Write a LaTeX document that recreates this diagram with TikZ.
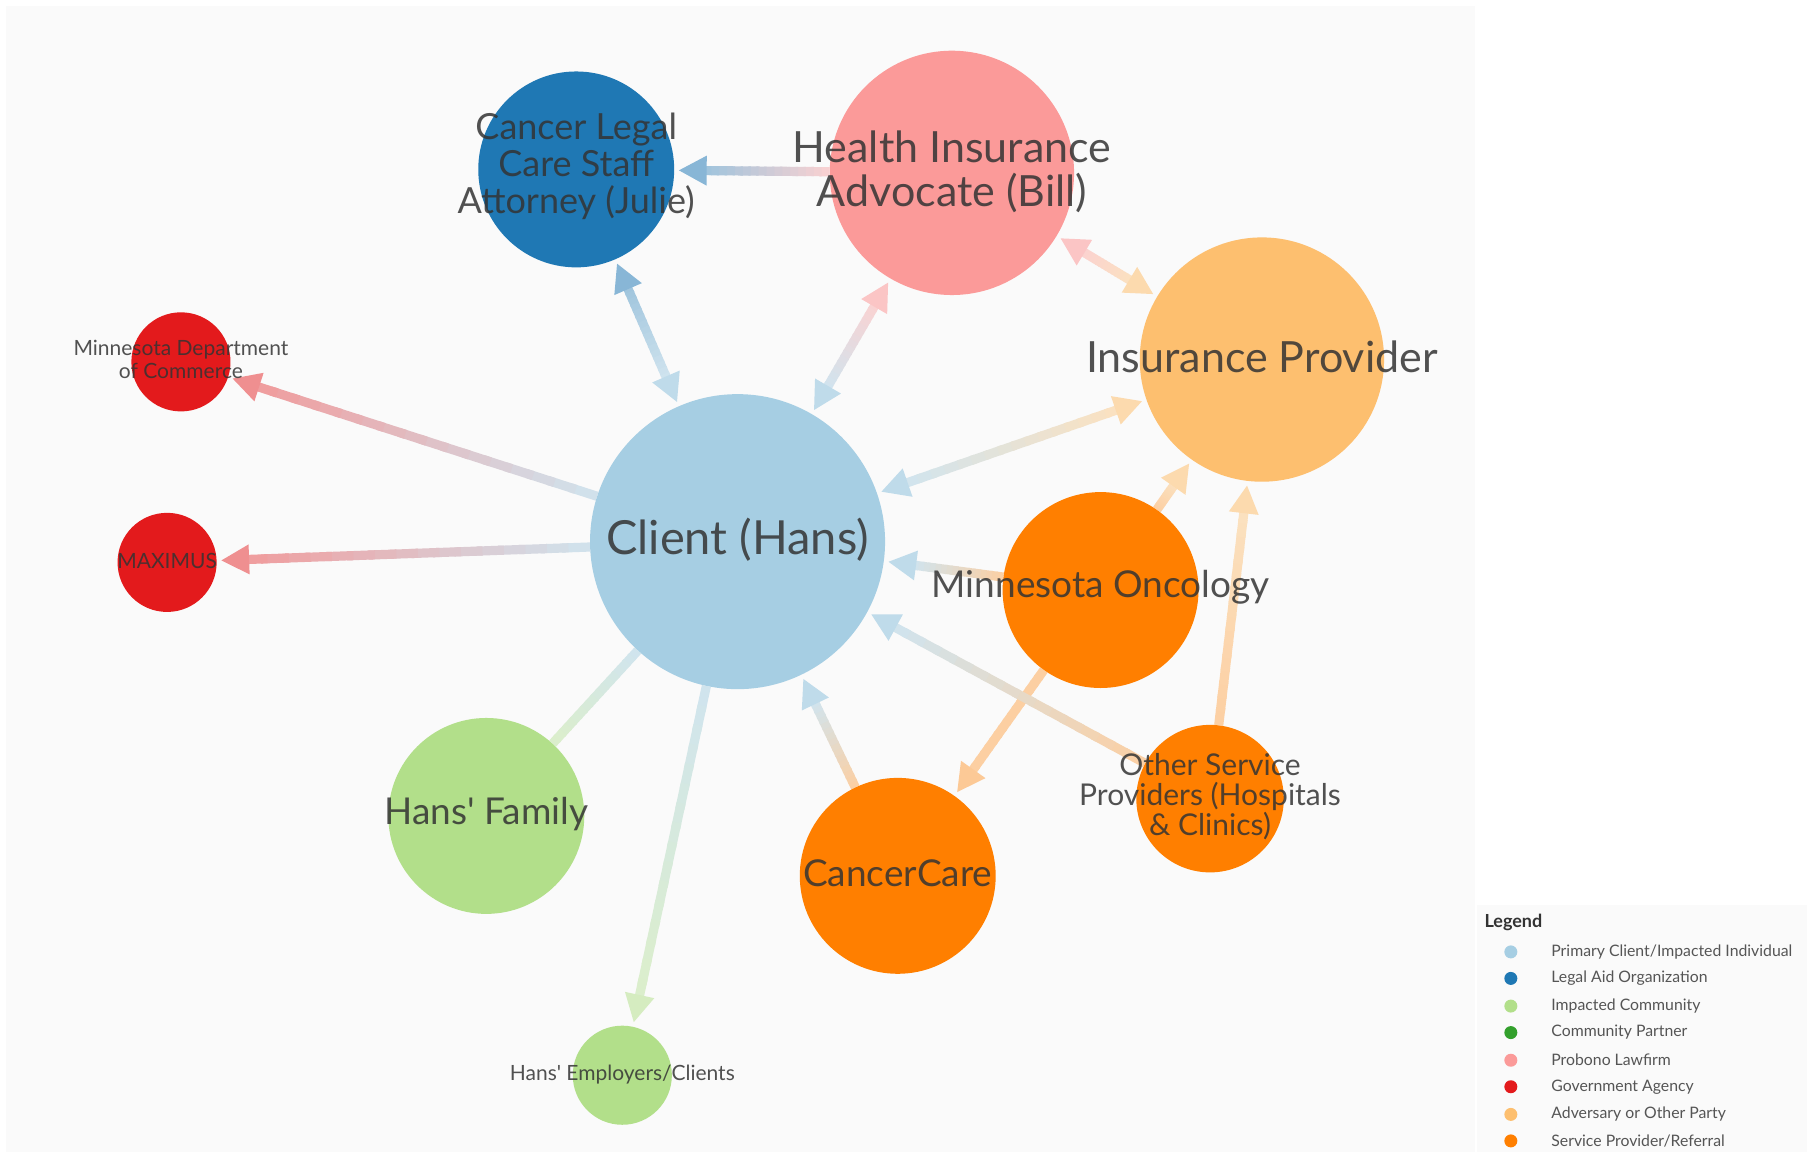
\documentclass[tikz,border=0pt]{standalone}
\usepackage{fontspec}
\setmainfont{Lato}
\usetikzlibrary{calc}
\pgfdeclarelayer{back}
\pgfdeclarelayer{edges}
\pgfsetlayers{back,edges,main}
\definecolor{bgpanel}{HTML}{FAFAFA}
\definecolor{cPrimary}{HTML}{A6CEE3}
\definecolor{cLegal}{HTML}{1F78B4}
\definecolor{cImpacted}{HTML}{B2DF8A}
\definecolor{cPartner}{HTML}{33A02C}
\definecolor{cProbono}{HTML}{FB9A99}
\definecolor{cGov}{HTML}{E31A1C}
\definecolor{cAdv}{HTML}{FDBF6F}
\definecolor{cServ}{HTML}{FF7F00}
\definecolor{labtext}{HTML}{333333}
\definecolor{legtext}{HTML}{555555}
\colorlet{ePrimary}{cPrimary!50!bgpanel}
\colorlet{eLegal}{cLegal!42!bgpanel}
\colorlet{eImpacted}{cImpacted!42!bgpanel}
\colorlet{eProbono}{cProbono!42!bgpanel}
\colorlet{eGov}{cGov!42!bgpanel}
\colorlet{eAdv}{cAdv!42!bgpanel}
\colorlet{eServ}{cServ!35!bgpanel}
\colorlet{aPrimary}{cPrimary!70!bgpanel}
\colorlet{aLegal}{cLegal!52!bgpanel}
\colorlet{aImpacted}{cImpacted!52!bgpanel}
\colorlet{aProbono}{cProbono!55!bgpanel}
\colorlet{aGov}{cGov!48!bgpanel}
\colorlet{aAdv}{cAdv!55!bgpanel}
\colorlet{aServ}{cServ!40!bgpanel}
\def\lw{9.2pt}
\def\gap{4.6pt}
\def\al{27.7pt}
\def\alin{24.5pt}
\def\aw{15pt}
% #1 from node, #2 to node, #3 from colour, #4 to colour, #5 arrow at from, #6 arrow at to
\newcommand{\gedge}[6]{%
  \path (#1) -- (#2) coordinate[pos=0] (ga) coordinate[pos=1] (gb);
  \coordinate (pa) at ($(ga)!\gap!(gb)$);
  \coordinate (pb) at ($(gb)!\gap!(ga)$);
  \ifnum#5>0 \coordinate (la) at ($(pa)!\alin!(pb)$);\else \coordinate (la) at (ga);\fi
  \ifnum#6>0 \coordinate (lb) at ($(pb)!\alin!(pa)$);\else \coordinate (lb) at (gb);\fi
  \foreach \i in {0,...,15}{%
    \pgfmathsetmacro{\ta}{\i/16}%
    \pgfmathsetmacro{\tb}{min(\i+1.3,16)/16}%
    \pgfmathtruncatemacro{\pc}{100-100*(\i+0.5)/16}%
    \draw[line width=\lw, color=e#3!\pc!e#4] ($(la)!\ta!(lb)$) -- ($(la)!\tb!(lb)$);
  }
  \ifnum#5>0
    \coordinate (sb) at ($(pa)!\al!(pb)$);
    \fill[a#3] (pa) -- ($(sb)!\aw!90:(pa)$) -- ($(sb)!\aw!-90:(pa)$) -- cycle;
  \fi
  \ifnum#6>0
    \coordinate (eb) at ($(pb)!\al!(pa)$);
    \fill[a#4] (pb) -- ($(eb)!\aw!90:(pb)$) -- ($(eb)!\aw!-90:(pb)$) -- cycle;
  \fi
}
\tikzset{
  bub/.style={circle, inner sep=0pt, draw=none, minimum size=#1*2.3048pt},
  lab/.style={align=center, text=labtext, text opacity=0.85, inner sep=0pt},
  legdot/.style={circle, inner sep=0pt, minimum size=13pt},
  legtxt/.style={anchor=west, text=legtext, inner sep=0pt, font=\fontsize{15.8}{18}\selectfont}
}
\begin{document}
\begin{tikzpicture}[x=1.1524pt,y=-1.1524pt]
\useasboundingbox (0,0) rectangle (1568,1000);
\begin{pgfonlayer}{back}
  \fill[white] (0,0) rectangle (1568,1000);
  \fill[bgpanel] (5,5) rectangle (1280,1000);
  \fill[bgpanel] (1282,785) rectangle (1568,1000);
\end{pgfonlayer}

% nodes
\node[bub=128, fill=cPrimary] (client) at (640,470) {};
\node[bub=85, fill=cLegal] (julie) at (500,147) {};
\node[bub=106, fill=cProbono] (bill) at (826,150) {};
\node[bub=106, fill=cAdv] (ins) at (1095,312) {};
\node[bub=43, fill=cGov] (dept) at (157,314) {};
\node[bub=43, fill=cGov] (maximus) at (145,488) {};
\node[bub=85, fill=cServ] (onc) at (955,512) {};
\node[bub=85, fill=cImpacted] (family) at (422,708) {};
\node[bub=85, fill=cServ] (cc) at (779,760) {};
\node[bub=64, fill=cServ] (other) at (1050,693) {};
\node[bub=43, fill=cImpacted] (empl) at (540,933) {};

% connectors
\begin{pgfonlayer}{edges}
  \gedge{bill}{julie}{Probono}{Legal}{0}{1}
  \gedge{julie}{client}{Legal}{Primary}{1}{1}
  \gedge{bill}{client}{Probono}{Primary}{1}{1}
  \gedge{bill}{ins}{Probono}{Adv}{1}{1}
  \gedge{client}{ins}{Primary}{Adv}{1}{1}
  \gedge{client}{dept}{Primary}{Gov}{0}{1}
  \gedge{client}{maximus}{Primary}{Gov}{0}{1}
  \gedge{onc}{client}{Serv}{Primary}{0}{1}
  \gedge{onc}{ins}{Serv}{Adv}{0}{1}
  \gedge{onc}{cc}{Serv}{Serv}{0}{1}
  \gedge{other}{client}{Serv}{Primary}{0}{1}
  \gedge{other}{ins}{Serv}{Adv}{0}{1}
  \gedge{cc}{client}{Serv}{Primary}{0}{1}
  \gedge{client}{family}{Primary}{Impacted}{0}{0}
  \gedge{client}{empl}{Primary}{Impacted}{0}{1}
\end{pgfonlayer}

% labels
\node[lab, font=\fontsize{47}{50}\selectfont] (client-l) at (640,468) {Client (Hans)};
\node[lab, font=\fontsize{36}{37}\selectfont] (julie-l) at (500,144) {Cancer Legal\\Care Staff\\Attorney (Julie)};
\node[lab, font=\fontsize{43}{44}\selectfont] (bill-l) at (826,149) {Health Insurance\\Advocate (Bill)};
\node[lab, font=\fontsize{43}{44}\selectfont] (ins-l) at (1095,310) {Insurance Provider};
\node[lab, font=\fontsize{21}{23}\selectfont] (dept-l) at (157,312) {Minnesota Department\\of Commerce};
\node[lab, font=\fontsize{21}{23}\selectfont] (maximus-l) at (145,487) {MAXIMUS};
\node[lab, font=\fontsize{37}{40}\selectfont] (onc-l) at (955,510) {Minnesota Oncology};
\node[lab, font=\fontsize{37}{40}\selectfont] (family-l) at (422,706) {Hans\textquotesingle{} Family};
\node[lab, font=\fontsize{37}{40}\selectfont] (cc-l) at (779,758) {CancerCare};
\node[lab, font=\fontsize{30}{30}\selectfont] (other-l) at (1050,691) {Other Service\\Providers (Hospitals\\\& Clinics)};
\node[lab, font=\fontsize{21}{23}\selectfont] (empl-l) at (540,932) {Hans\textquotesingle{} Employers/Clients};

% legend
\node[anchor=west, inner sep=0pt, text=labtext, font=\bfseries\fontsize{18}{20}\selectfont] (legend) at (1288,800) {Legend};
\node[legdot, fill=cPrimary] (ld1) at (1311,826) {};
\node[legtxt] (lt1) at (1346,826) {Primary Client/Impacted Individual};
\node[legdot, fill=cLegal] (ld2) at (1311,849) {};
\node[legtxt] (lt2) at (1346,849) {Legal Aid Organization};
\node[legdot, fill=cImpacted] (ld3) at (1311,873) {};
\node[legtxt] (lt3) at (1346,873) {Impacted Community};
\node[legdot, fill=cPartner] (ld4) at (1311,896) {};
\node[legtxt] (lt4) at (1346,896) {Community Partner};
\node[legdot, fill=cProbono] (ld5) at (1311,920) {};
\node[legtxt] (lt5) at (1346,920) {Probono Lawfirm};
\node[legdot, fill=cGov] (ld6) at (1311,943) {};
\node[legtxt] (lt6) at (1346,943) {Government Agency};
\node[legdot, fill=cAdv] (ld7) at (1311,967) {};
\node[legtxt] (lt7) at (1346,967) {Adversary or Other Party};
\node[legdot, fill=cServ] (ld8) at (1311,990) {};
\node[legtxt] (lt8) at (1346,990) {Service Provider/Referral};
\end{tikzpicture}
\end{document}
